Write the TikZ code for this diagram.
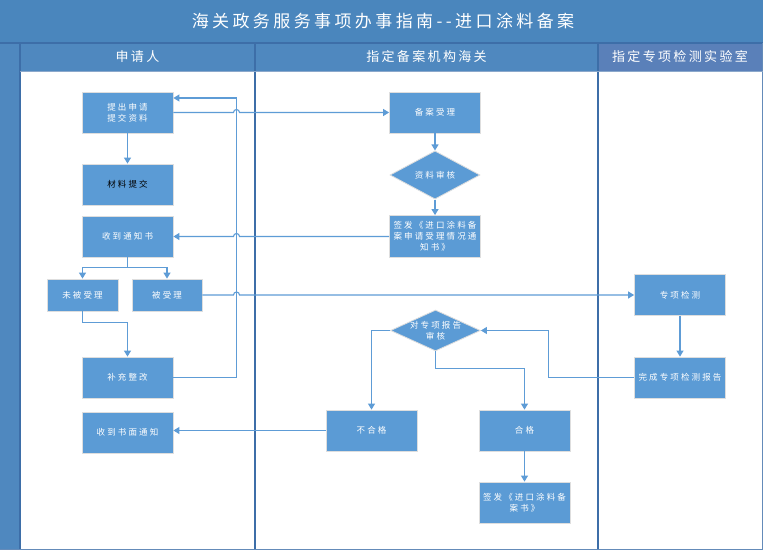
\documentclass[tikz,border=0pt]{standalone}
\usepackage{fontspec}
\setmainfont{Noto Sans CJK SC}
\newfontfamily\boxfont[LetterSpace=25]{Noto Sans CJK SC}
\newfontfamily\headfont[LetterSpace=18]{Noto Sans CJK SC}
\newfontfamily\ttlfont[LetterSpace=20]{Noto Sans CJK SC}
\usetikzlibrary{shapes.geometric,arrows.meta,calc}
\definecolor{titleblue}{HTML}{4A86BD}
\definecolor{headblue}{HTML}{4F88BF}
\definecolor{headblue2}{HTML}{5A80B9}
\definecolor{boxblue}{HTML}{5B9BD5}
\definecolor{lineblue}{HTML}{5E9CD6}
\definecolor{divblue}{HTML}{3D6EA8}
\tikzset{
  box/.style={rectangle, fill=boxblue, draw=black!13, line width=0.8pt,
    minimum width=91pt, minimum height=41pt, inner sep=1pt, text=white,
    font={\boxfont\fontsize{8.5}{11}\selectfont}, align=center},
  smallbox/.style={box, minimum width=71pt, minimum height=32pt},
  dia/.style={diamond, fill=boxblue, draw=black!13, line width=0.8pt,
    minimum width=90pt, minimum height=41pt, inner sep=0pt, text=white,
    font={\boxfont\fontsize{8.5}{11}\selectfont}},
  diatxt/.style={text=white, align=center, inner sep=0pt,
    font={\boxfont\fontsize{8.5}{11}\selectfont}},
  conn/.style={draw=lineblue, line width=1.1pt, -{Triangle[width=7pt,length=6pt]}},
  headtxt/.style={text=white, font={\headfont\fontsize{13}{15}\selectfont}},
  ttltxt/.style={text=white, font={\ttlfont\fontsize{17}{20}\selectfont}},
  divline/.style={draw=divblue, line width=1.2pt}
}
\begin{document}
\begin{tikzpicture}[x=1pt,y=-1pt]
\useasboundingbox (0,0) rectangle (765,553);
% backgrounds
\fill[white] (0,0) rectangle (765,553);
\fill[titleblue] (0,0) rectangle (763,43);
\fill[headblue] (0,43) rectangle (763,71);
\fill[headblue2] (598,43) rectangle (763,71);
\fill[headblue] (0,71) rectangle (20,550);
\draw[divline] (0,43) -- (763,43);
\draw[divline] (20,43) -- (20,550);
\draw[divline] (255,43) -- (255,549);
\draw[divline] (598,43) -- (598,549);
\draw[draw=divblue!80, line width=1.5pt] (0,549.5) -- (762.5,549.5) -- (762.5,43);
\draw[draw=divblue!60, line width=0.6pt] (20,71) -- (763,71);
% title and lane headers
\node[ttltxt] (title) at (383,21) {海关政务服务事项办事指南--进口涂料备案};
\node[headtxt] (h1) at (137.5,57) {申请人};
\node[headtxt] (h2) at (426.5,57) {指定备案机构海关};
\node[headtxt] (h3) at (680,57) {指定专项检测实验室};
% nodes
\node[box] (a1) at (127.5,112.5) {提出申请\\提交资料};
\node[box, text=black] (a2) at (127.5,184.5) {材料提交};
\node[box] (a3) at (127.5,236.5) {收到通知书};
\node[smallbox] (a4) at (82.5,295) {未被受理};
\node[smallbox, minimum width=70pt] (a5) at (167,295) {被受理};
\node[box] (a6) at (127.5,377.5) {补充整改};
\node[box] (a7) at (127.5,432.5) {收到书面通知};
\node[box] (b1) at (435,112.5) {备案受理};
\node[dia, minimum height=40pt] (d1) at (435,175) {资料审核};
\node[box, minimum height=42pt] (b3) at (435,236.5) {签发《进口涂料备\\案申请受理情况通\\知书》};
\node[dia] (d2) at (435.5,330.5) {};
\node[diatxt] (d2t) at (d2.center) {对专项报告\\审核};
\node[box] (b4) at (371.5,430.5) {不合格};
\node[box] (b5) at (524.5,430.5) {合格};
\node[box] (b6) at (524.5,502.5) {签发《进口涂料备\\案书》};
\node[box] (c1) at (680,295) {专项检测};
\node[box] (c2) at (680,377.5) {完成专项检测报告};
\coordinate (vx) at (236.5,0);
\coordinate (a1top) at ([yshift=14.5pt]a1.east);
% connectors
\draw[conn] (a1) -- (a2);
\draw[conn] (a1.east) -- ([xshift=-3pt]vx |- a1.east) arc[start angle=180, end angle=0, radius=3pt] -- (b1.west);
\draw[conn] (a6.east) -- (vx |- a6.east) -- (vx |- a1top) -- (a1top);
\draw[conn] (b1) -- (d1);
\draw[conn] (d1) -- (b3);
\draw[conn] (b3.west) -- ([xshift=3pt]vx |- b3.west) arc[start angle=0, end angle=180, radius=3pt] -- (a3.east);
\draw[conn] (a3.south) -- ++(0,10.5) -| (a4.north);
\draw[conn] (a3.south) -- ++(0,10.5) -| (a5.north);
\draw[conn] (a4.south) -- ++(0,11) -| (a6.north);
\draw[conn] (a5.east) -- ([xshift=-3pt]vx |- a5.east) arc[start angle=180, end angle=0, radius=3pt] -- (c1.west);
\draw[conn] (c1) -- (c2);
\draw[conn] (c2.west) -- ++(-86,0) |- (d2.east);
\draw[conn] (d2.west) -| (b4.north);
\draw[conn] (d2.south) -- ++(0,17) -| (b5.north);
\draw[conn] (b5) -- (b6);
\draw[conn] (b4.west) -- (b4.west -| a7.east);
\end{tikzpicture}
\end{document}
